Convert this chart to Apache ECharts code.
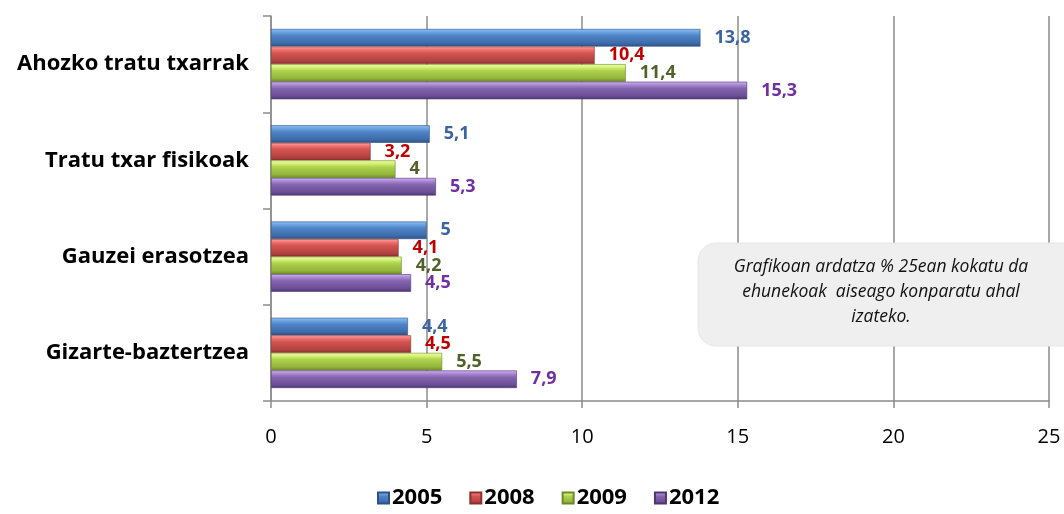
<!DOCTYPE html>
<html>
<head>
<meta charset="utf-8">
<script src="https://cdn.jsdelivr.net/npm/echarts@6/dist/echarts.min.js"></script>
<style>
html,body{margin:0;padding:0;background:#fff;}
#main{width:1064px;height:514px;}
</style>
</head>
<body>
<div id="main"></div>
<script>
const categories = ['Ahozko tratu txarrak', 'Tratu txar fisikoak', 'Gauzei erasotzea', 'Gizarte-baztertzea'];
const years = ['2005', '2008', '2009', '2012'];
const v2005 = [13.8, 5.1, 5, 4.4];
const v2008 = [10.4, 3.2, 4.1, 4.5];
const v2009 = [11.4, 4, 4.2, 5.5];
const v2012 = [15.3, 5.3, 4.5, 7.9];
const xTicks = [0, 5, 10, 15, 20, 25];
const noteText = 'Grafikoan ardatza % 25ean kokatu da\nehunekoak  aiseago konparatu ahal\nizateko.';

const seriesData = [v2005, v2008, v2009, v2012];
const barStops = [
  ['#8ec2f8', '#6aa0e0', '#4f84c6', '#3d6cab', '#2c5285'],
  ['#ffa3a1', '#ef6e6b', '#d45452', '#b24340', '#8a302e'],
  ['#f0ffa6', '#d2ef70', '#aed14e', '#93b63c', '#6c8a28'],
  ['#d2b4f2', '#a585d0', '#8465ae', '#6c4f96', '#4e3672']
];
const labelColors = ['#3b64a0', '#c00000', '#4f6228', '#7030a0'];

function grad(s) {
  return new echarts.graphic.LinearGradient(0, 0, 0, 1, [
    {offset: 0, color: s[0]}, {offset: 0.2, color: s[1]},
    {offset: 0.38, color: s[2]}, {offset: 0.8, color: s[3]}, {offset: 1, color: s[4]}
  ]);
}

const chart = echarts.init(document.getElementById('main'));
chart.setOption({
  animation: false,
  grid: {left: 271, right: 15, top: 16, bottom: 113, containLabel: false},
  legend: {
    bottom: 0, left: 372,
    data: years,
    icon: 'rect', itemWidth: 11, itemHeight: 11, itemGap: 27,
    textStyle: {fontFamily: 'Open Sans', fontWeight: 'bold', fontSize: 22, color: '#000', padding: [0, 0, 0, -2]}
  },
  xAxis: {
    type: 'value', min: 0, max: 25, interval: 5,
    axisLine: {show: true, lineStyle: {color: '#8c8c8c', width: 1.5}},
    axisTick: {show: true, length: 7, lineStyle: {color: '#8c8c8c', width: 1.5}},
    splitLine: {show: true, lineStyle: {color: '#8c8c8c', width: 1.5}},
    axisLabel: {
      fontFamily: 'Open Sans', fontSize: 20, color: '#000', margin: 26,
      formatter: v => xTicks.includes(v) ? String(v) : ''
    }
  },
  yAxis: {
    type: 'category', data: categories, inverse: true,
    axisLine: {show: true, lineStyle: {color: '#8c8c8c', width: 1.5}},
    axisTick: {show: true, length: 8, lineStyle: {color: '#8c8c8c', width: 1.5}},
    axisLabel: {fontFamily: 'Open Sans', fontWeight: 'bold', fontSize: 22, color: '#000', margin: 22}
  },
  series: years.map((y, i) => ({
    name: y, type: 'bar',
    data: seriesData[i],
    barGap: '0%', barCategoryGap: '27%',
    itemStyle: {color: grad(barStops[i]), borderColor: barStops[i][4], borderWidth: 0.6},
    label: {
      show: true, position: 'right', distance: 14,
      fontFamily: 'Open Sans', fontWeight: 'bold', fontSize: 18, color: labelColors[i],
      formatter: p => String(p.value).replace('.', ',')
    }
  })),
  graphic: [{
    type: 'rect', x: 698, y: 243, z: 100,
    shape: {width: 400, height: 103, r: 18},
    style: {fill: '#efefef', stroke: '#e6e6e6'}
  }, {
    type: 'text', x: 881, y: 255, z: 101,
    style: {
      text: noteText, align: 'center', verticalAlign: 'top',
      fontFamily: 'Open Sans', fontStyle: 'italic', fontSize: 17.5, lineHeight: 25, fill: '#111'
    }
  }]
});
</script>
</body>
</html>
